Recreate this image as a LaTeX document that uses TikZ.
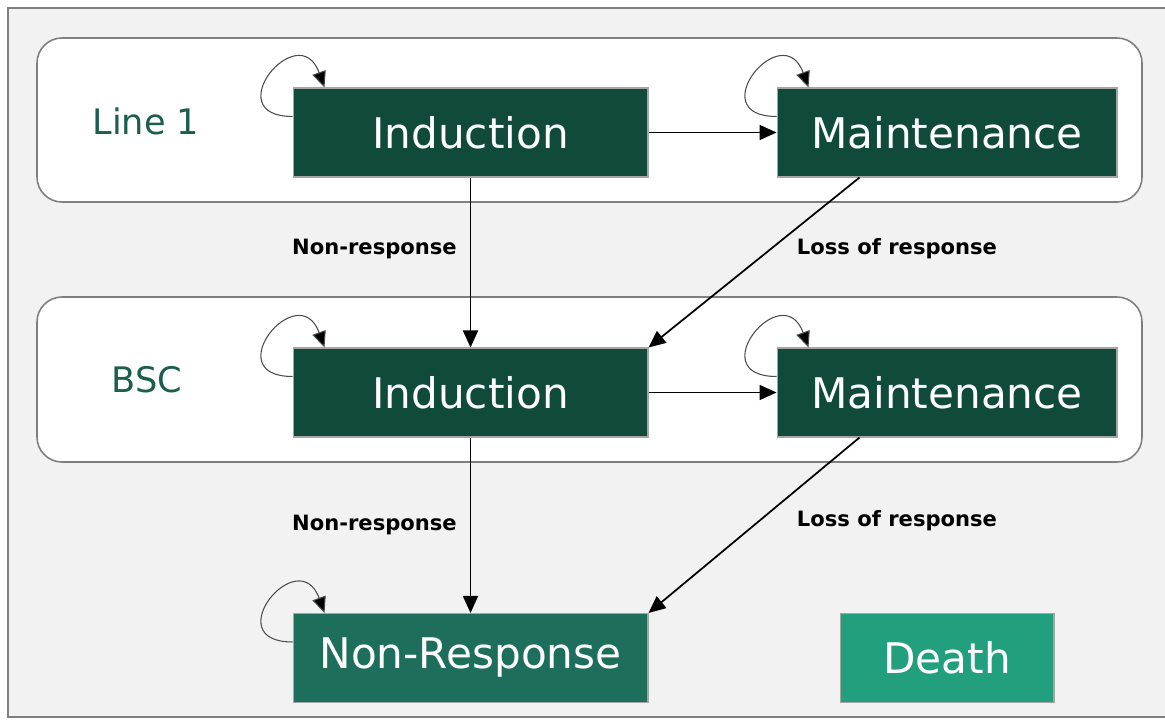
\documentclass[tikz,border=0pt]{standalone}
\usepackage{fontspec}
\setmainfont{DejaVu Sans}
\usepackage{tikz}
\usetikzlibrary{positioning,arrows.meta,calc}
\definecolor{deepgreen}{HTML}{0F4A3A}
\definecolor{midgreen}{HTML}{1D6F5B}
\definecolor{lightgreen}{HTML}{22A07E}
\definecolor{tealtext}{HTML}{1B5E50}
\definecolor{pagebg}{HTML}{F2F2F2}
\definecolor{framegray}{HTML}{7F7F7F}

\begin{document}
\begin{tikzpicture}[
    x=0.02cm, y=-0.02cm,
    panel/.style={draw=framegray, line width=0.9pt, fill=white, rounded corners=5mm},
    state/.style={draw=framegray!70, line width=0.6pt, fill=deepgreen, text=white, minimum height=1.78cm, inner sep=0pt, font=\fontsize{24}{28}\selectfont},
    line/.style={text=tealtext, font=\fontsize{20}{24}\selectfont},
    lbl/.style={font=\bfseries\fontsize{12}{14}\selectfont},
    arr/.style={-{Triangle[length=3.4mm,width=3mm]}, line width=1pt},
    selfloop/.style={-{Triangle[length=3.2mm,width=2.8mm,fill=black]}, draw=black!70, line width=0.6pt, out=180, in=110, looseness=4.5}
]
    \useasboundingbox (0,0) rectangle (1165,720);
    \draw[framegray, fill=pagebg, line width=0.8pt] (8,8) rectangle (1172,717);

    % treatment lines
    \draw[panel] (37,38) rectangle (1142,202);
    \draw[panel] (37,297) rectangle (1142,462);
    \node[line] (line1) at (146,121) {Line 1};
    \node[line] (bsc) at (147,380) {BSC};

    % states
    \node[state, minimum width=7.1cm] (ind1) at (470.5,132.5) {Induction};
    \node[state, minimum width=6.8cm] (main1) at (947,132.5) {Maintenance};
    \node[state, minimum width=7.1cm] (ind2) at (470.5,392.5) {Induction};
    \node[state, minimum width=6.8cm] (main2) at (947,392.5) {Maintenance};
    \node[state, minimum width=7.1cm, fill=midgreen] (nonresp) at (470.5,658) {Non-Response};
    \node[state, minimum width=4.28cm, fill=lightgreen] (death) at (947,658) {Death};

    % transitions
    \draw[arr] (ind1) -- (main1);
    \draw[arr] (ind2) -- (main2);
    \draw[arr] (ind1) -- (ind2) node[lbl, pos=0.42, left=4pt] {Non-response};
    \draw[arr] (ind2) -- (nonresp) node[lbl, pos=0.5, left=4pt] {Non-response};
    \draw[arr] ([xshift=1.66cm]main1.south west) -- (ind2.north east);
    \draw[arr] ([xshift=1.66cm]main2.south west) -- (nonresp.north east);
    \node[lbl] (loss1) at (897,249) {Loss of response};
    \node[lbl] (loss2) at (897,521) {Loss of response};

    % staying in a state
    \foreach \s in {ind1,main1,ind2,main2,nonresp}
        \draw[selfloop] ([yshift=-0.58cm]\s.north west) to ([xshift=0.64cm]\s.north west);
\end{tikzpicture}
\end{document}
